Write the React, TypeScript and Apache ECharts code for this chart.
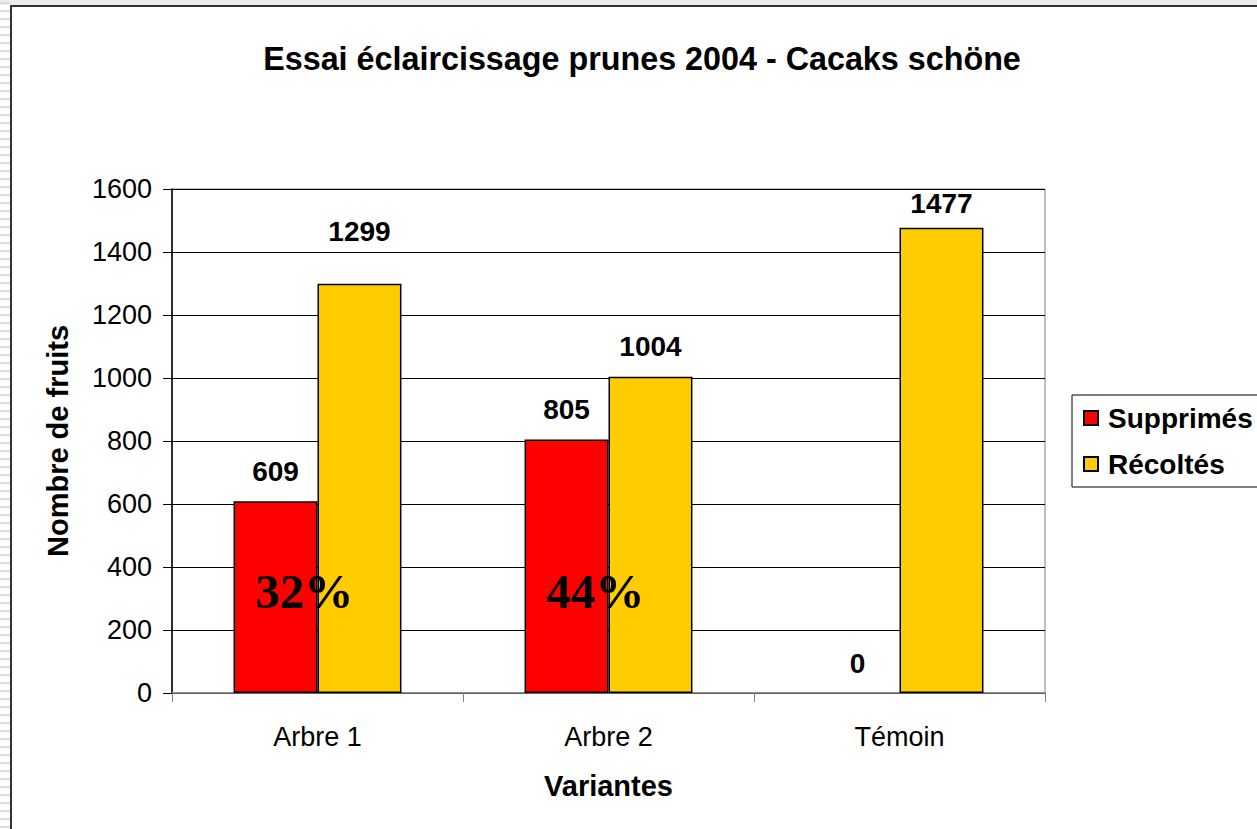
import React, { useEffect, useRef } from "react";
import * as echarts from "echarts";

const categories = ["Arbre 1", "Arbre 2", "Témoin"];
const supprimes = [609, 805, 0];
const recoltes = [1299, 1004, 1477];
const percentLabels = ["32%", "44%"];
const percentCats = ["Arbre 1", "Arbre 2"];
const percentLevel = 322;
const yTicks = { min: 0, max: 1600, interval: 200 };
const titleText = "Essai éclaircissage prunes 2004 - Cacaks schöne";

export default function App() {
  const ref = useRef<HTMLDivElement>(null);
  useEffect(() => {
    if (!ref.current) return;
    const chart = echarts.init(ref.current, null, { renderer: "svg" });
    const sans = "'Liberation Sans', Arial, sans-serif";
    const stripes: any[] = [];
    for (let y = 2; y < 829; y += 8) {
      stripes.push({
        type: "rect",
        shape: { x: 0, y, width: 10, height: 2 },
        style: { fill: "#dcdcdc" },
        silent: true,
      });
    }
    const supData = supprimes.map((v) =>
      v === 0 ? { value: v, itemStyle: { borderWidth: 0 } } : v
    );
    const recData = recoltes.map((v) => {
      if (v === 1299) return { value: v, label: { distance: 38 } };
      if (v === 1477) return { value: v, label: { distance: 10 } };
      return v;
    });
    chart.setOption({
      animation: false,
      backgroundColor: "#ffffff",
      title: {
        text: titleText,
        left: 637,
        textAlign: "center",
        top: 38,
        textStyle: { fontFamily: sans, fontWeight: "bold", fontSize: 32.3, color: "#000" },
      },
      legend: {
        orient: "vertical",
        left: 1072,
        top: 395,
        padding: [9, 60, 9, 11],
        itemGap: 18,
        itemWidth: 14,
        itemHeight: 14,
        borderColor: "#000",
        borderWidth: 1,
        icon: "rect",
        textStyle: { fontFamily: sans, fontWeight: "bold", fontSize: 28, color: "#000", padding: [0, 0, 0, 5] },
        data: ["Supprimés", "Récoltés"],
      },
      grid: {
        left: 172,
        right: 212,
        top: 189,
        bottom: 136,
        show: true,
        borderColor: "#808080",
        borderWidth: 1,
        containLabel: false,
      },
      xAxis: {
        type: "category",
        data: categories,
        name: "Variantes",
        nameLocation: "middle",
        nameGap: 78,
        nameTextStyle: { fontFamily: sans, fontWeight: "bold", fontSize: 29, color: "#000" },
        axisLine: { lineStyle: { color: "#808080", width: 1.5 } },
        axisTick: { show: true, length: 9, lineStyle: { color: "#808080" } },
        axisLabel: { fontFamily: sans, fontSize: 27, color: "#000", margin: 30 },
      },
      yAxis: {
        type: "value",
        min: yTicks.min,
        max: yTicks.max,
        interval: yTicks.interval,
        name: "Nombre de fruits",
        nameLocation: "middle",
        nameGap: 100,
        nameRotate: 90,
        nameTextStyle: { fontFamily: sans, fontWeight: "bold", fontSize: 29, color: "#000" },
        axisLine: { show: true, lineStyle: { color: "#000", width: 1.5 } },
        axisTick: { show: true, length: 9, lineStyle: { color: "#000" } },
        axisLabel: {
          fontFamily: sans,
          fontSize: 27,
          color: "#000",
          margin: 20,
          formatter: (v: number) => String(v),
        },
        splitLine: { show: true, lineStyle: { color: "#000", width: 1 } },
      },
      series: [
        {
          name: "Supprimés",
          type: "bar",
          data: supData,
          barGap: "0%",
          barCategoryGap: "42.3%",
          itemStyle: { color: "#FF0000", borderColor: "#000", borderWidth: 1.5 },
          label: {
            show: true,
            position: "top",
            distance: 16,
            fontFamily: sans,
            fontWeight: "bold",
            fontSize: 28,
            color: "#000",
          },
          markPoint: {
            symbol: "circle",
            symbolSize: 0,
            silent: true,
            label: {
              show: true,
              position: "inside",
              formatter: "{b}",
              offset: [29, 0],
              fontFamily: "'Liberation Serif', 'Times New Roman', serif",
              fontWeight: "bold",
              fontSize: 49,
              color: "#000",
            },
            data: percentCats.map((c, i) => ({
              name: percentLabels[i],
              coord: [c, percentLevel],
            })),
          },
        },
        {
          name: "Récoltés",
          type: "bar",
          data: recData,
          itemStyle: { color: "#FFCC00", borderColor: "#000", borderWidth: 1.5 },
          label: {
            show: true,
            position: "top",
            distance: 16,
            fontFamily: sans,
            fontWeight: "bold",
            fontSize: 28,
            color: "#000",
          },
        },
      ],
      graphic: [
        {
          type: "rect",
          shape: { x: 0, y: 0, width: 1257, height: 5 },
          style: { fill: "#ececec" },
          silent: true,
          z: 10,
        },
        ...stripes.map((s) => ({ ...s, z: 10 })),
        {
          type: "line",
          shape: { x1: 11, y1: 6, x2: 1257, y2: 6 },
          style: { stroke: "#333", lineWidth: 2 },
          silent: true,
          z: 11,
        },
        {
          type: "line",
          shape: { x1: 11, y1: 5, x2: 11, y2: 829 },
          style: { stroke: "#333", lineWidth: 2 },
          silent: true,
          z: 11,
        },
      ],
    });
    return () => chart.dispose();
  }, []);
  return (
    <div
      ref={ref}
      style={{ position: "absolute", left: 0, top: 0, width: 1257, height: 829 }}
    />
  );
}
